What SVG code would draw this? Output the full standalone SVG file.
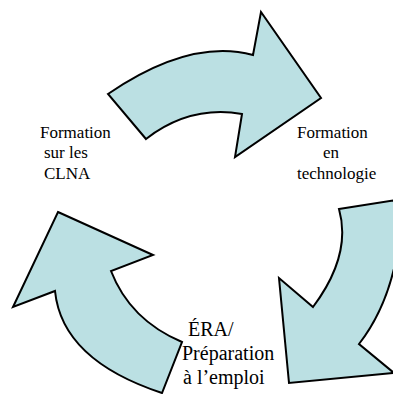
<svg xmlns="http://www.w3.org/2000/svg" width="393" height="394" viewBox="0 0 393 394">
<style>
.arrow{fill:#BBE0E3;stroke:#000;stroke-width:2;stroke-linejoin:miter}
.lbl{font-family:"Liberation Serif","Times New Roman",serif;font-size:17px;fill:#000}
.big{font-size:20px}
</style>
<rect width="393" height="394" fill="#fff"/>
<g id="connectors">
<path id="arrow-top" class="arrow" d="M108,94 Q190,38 253,55 L261,12 L321,98 L235,157 L242,114 Q190,105 146,139 Z"/>
<path id="arrow-right" class="arrow" d="M339,209 L402,199 Q401,290 359,344 L394,373 L289,383 L279,278 L313,307 Q352,255 339,209 Z"/>
<path id="arrow-left" class="arrow" d="M58,212 L153,255 L111,271 Q130,320 182,342 L162,393 Q62,360 55,291 L13,307 Z"/>
</g>
<g id="node-clna">
<text class="lbl" x="40" y="138">Formation</text>
<text class="lbl" x="44" y="158">sur les</text>
<text class="lbl" x="44" y="179">CLNA</text>
</g>
<g id="node-techno">
<text class="lbl" x="297" y="138">Formation</text>
<text class="lbl" x="323" y="158">en</text>
<text class="lbl" x="297" y="179">technologie</text>
</g>
<g id="node-era">
<text class="lbl big" x="188" y="336">ÉRA/</text>
<text class="lbl big" x="182" y="360">Préparation</text>
<text class="lbl big" x="183" y="384">à l’emploi</text>
</g>
</svg>
